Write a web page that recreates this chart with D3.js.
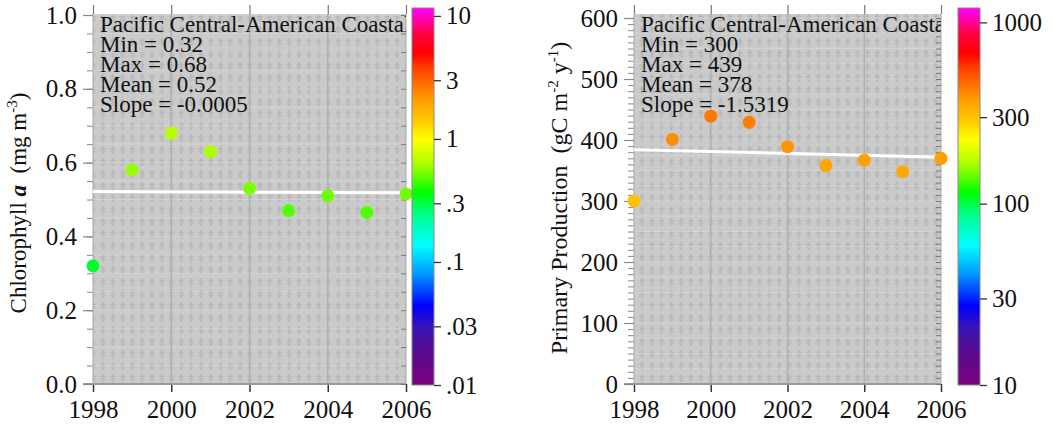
<!DOCTYPE html>
<html>
<head>
<meta charset="utf-8">
<script src="https://cdn.jsdelivr.net/npm/d3@7"></script>
<style>
body { margin: 0; background: #fff; }
svg { display: block; }
text { font-family: "Liberation Serif", "Times New Roman", Times, serif; fill: #111; }
</style>
</head>
<body>
<svg id="chart" width="1053" height="429"></svg>
<script>
const FONT = '"Liberation Serif", "Times New Roman", Times, serif';

// data
const years = [1998, 1999, 2000, 2001, 2002, 2003, 2004, 2005, 2006];
const chlValues = [0.32, 0.58, 0.68, 0.63, 0.53, 0.47, 0.51, 0.465, 0.515];
const ppValues = [300, 401, 439, 429, 389, 358, 367, 348, 370];
const regionName = 'Pacific Central-American Coastal';
const chlStats = { min: '0.32', max: '0.68', mean: 0.52, slope: -0.0005, slopeText: '-0.0005' };
const ppStats = { min: '300', max: '439', mean: 378, slope: -1.5319, slopeText: '-1.5319' };
const yearTicks = [1998, 2000, 2002, 2004, 2006];
const chlTicks = [0.0, 0.2, 0.4, 0.6, 0.8, 1.0];
const ppTicks = [0, 100, 200, 300, 400, 500, 600];
const chlBarTicks = [0.01, 0.03, 0.1, 0.3, 1, 3, 10];
const chlBarLabels = ['.01', '.03', '.1', '.3', '1', '3', '10'];
const ppBarTicks = [10, 30, 100, 300, 1000];
const ppBarLabels = ['10', '30', '100', '300', '1000'];

// rainbow colour map, bottom (0) to top (1)
const cmapPos = [0, 0.08, 0.15, 0.21, 0.29, 0.37, 0.45, 0.51, 0.58, 0.65, 0.70, 0.76, 0.84, 0.88, 0.93, 1];
const cmapCol = ['#7f007f', '#5a0a8c', '#3c14b4', '#0000ff', '#0090ff', '#00ffff', '#00ff90', '#00ff00',
	'#a0ff00', '#ffff00', '#ffcc00', '#ff9900', '#ff4000', '#ff0000', '#ff0040', '#ff00ff'];
const cmap = d3.scaleLinear().domain(cmapPos).range(cmapCol).interpolate(d3.interpolateRgb).clamp(true);

const svg = d3.select('#chart');
const defs = svg.append('defs');

// greyish texture for the plot background
let pat = defs.append('pattern').attr('id', 'tex').attr('patternUnits', 'userSpaceOnUse')
	.attr('width', 9.8).attr('height', 12);
pat.append('rect').attr('width', 9.8).attr('height', 12).attr('fill', '#cacaca');
pat.append('rect').attr('x', 4).attr('y', 2).attr('width', 2).attr('height', 8).attr('fill', '#b8b8b8');
pat.append('rect').attr('x', 2.5).attr('y', 4).attr('width', 5).attr('height', 1.5).attr('fill', '#b8b8b8');
pat.append('rect').attr('x', 2.5).attr('y', 7).attr('width', 5).attr('height', 1.5).attr('fill', '#bdbdbd');

let grad = defs.append('linearGradient').attr('id', 'rainbow')
	.attr('x1', 0).attr('y1', 1).attr('x2', 0).attr('y2', 0);
cmapPos.forEach((p, i) => grad.append('stop').attr('offset', p).attr('stop-color', cmapCol[i]));

function styleText(sel) {
	sel.attr('font-size', 25).attr('fill', '#111').style('font-family', FONT);
}

function drawPanel(o) {
	let g = svg.append('g');
	let x = d3.scaleLinear().domain([1998, 2006]).range([o.left, o.right]);
	let y = d3.scaleLinear().domain([0, o.yMax]).range([384, o.yTop]);
	let top = 14, bottom = 384;

	defs.append('clipPath').attr('id', o.id + '-clip')
		.append('rect').attr('x', o.left).attr('y', top).attr('width', o.right - o.left).attr('height', bottom - top);

	g.append('rect').attr('x', o.left).attr('y', top).attr('width', o.right - o.left)
		.attr('height', bottom - top).attr('fill', 'url(#tex)');

	// faint grid
	g.append('g').selectAll('line').data(d3.range(0, o.yMax + 1e-9, o.gridStep))
		.enter().append('line')
		.attr('x1', o.left).attr('x2', o.right)
		.attr('y1', d => y(d)).attr('y2', d => y(d))
		.attr('stroke', '#d6d6d6').attr('stroke-width', 0.8);
	g.append('g').selectAll('line').data(yearTicks.slice(1, -1))
		.enter().append('line')
		.attr('x1', d => x(d)).attr('x2', d => x(d))
		.attr('y1', top).attr('y2', bottom)
		.attr('stroke', '#b0b0b0').attr('stroke-width', 1.5);

	// bottom axis
	let xAxis = d3.axisBottom(x).tickValues(yearTicks).tickFormat(d3.format('d')).tickSize(8).tickPadding(8);
	let ax = g.append('g').attr('transform', `translate(0,${bottom})`).call(xAxis);
	ax.select('.domain').remove();
	ax.selectAll('line').attr('stroke', '#333').attr('stroke-width', 1.5);
	styleText(ax.selectAll('text'));
	g.append('line').attr('x1', o.left - 10).attr('x2', o.right).attr('y1', bottom).attr('y2', bottom)
		.attr('stroke', '#999').attr('stroke-width', 2);

	// top ticks
	let tAxis = d3.axisTop(x).tickValues(yearTicks).tickFormat('').tickSize(9);
	let at = g.append('g').attr('transform', `translate(0,${top})`).call(tAxis);
	at.select('.domain').remove();
	at.selectAll('line').attr('stroke', '#777').attr('stroke-width', 1.2);

	// left axis, major and minor
	let yMinor = d3.axisLeft(y).tickValues(d3.range(0, o.yMax + 1e-9, o.minorStep)).tickFormat('').tickSize(6);
	let am = g.append('g').attr('transform', `translate(${o.left},0)`).call(yMinor);
	am.select('.domain').remove();
	am.selectAll('line').attr('stroke', '#888').attr('stroke-width', 1);
	let yAxis = d3.axisLeft(y).tickValues(o.yTicks).tickFormat(o.yFormat).tickSize(10).tickPadding(6);
	let ay = g.append('g').attr('transform', `translate(${o.left},0)`).call(yAxis);
	ay.select('.domain').attr('stroke', '#aaa').attr('d', `M0,${top}V${bottom}`);
	ay.selectAll('line').attr('stroke', '#888').attr('stroke-width', 1.2);
	styleText(ay.selectAll('text'));

	// right edge inner ticks
	let yRight = d3.axisLeft(y).tickValues(d3.range(0, o.yMax + 1e-9, o.rightStep)).tickFormat('').tickSize(5);
	let ar = g.append('g').attr('transform', `translate(${o.right},0)`).call(yRight);
	ar.select('.domain').attr('stroke', '#aaa').attr('d', `M0,${top}V${bottom}`);
	ar.selectAll('line').attr('stroke', '#777');

	// y label
	let lab = g.append('text').attr('transform', `translate(${o.labelX},${o.labelY}) rotate(-90)`)
		.attr('text-anchor', 'middle').attr('font-size', o.labelSize);
	o.label(lab);

	// trend line from the stated mean and slope
	let mid = d3.mean(years);
	g.append('line')
		.attr('x1', x(1998)).attr('x2', x(2006))
		.attr('y1', y(o.stats.mean + o.stats.slope * (1998 - mid)))
		.attr('y2', y(o.stats.mean + o.stats.slope * (2006 - mid)))
		.attr('stroke', '#fff').attr('stroke-width', 3);

	// points, coloured through the colour bar scale
	let cb = d3.scaleLog().domain(o.barDomain).range([0, 1]);
	g.append('g').selectAll('circle').data(o.values)
		.enter().append('circle')
		.attr('cx', (d, i) => x(years[i]))
		.attr('cy', d => y(d))
		.attr('r', 6.5)
		.attr('fill', d => cmap(cb(d)));

	// stats text
	let tg = g.append('g').attr('clip-path', `url(#${o.id}-clip)`);
	let lines = [regionName, 'Min = ' + o.stats.min, 'Max = ' + o.stats.max,
		'Mean = ' + o.stats.mean, 'Slope = ' + o.stats.slopeText];
	tg.selectAll('text').data(lines).enter().append('text')
		.attr('x', o.left + 7).attr('y', (d, i) => 32 + i * 20)
		.attr('font-size', 23).text(d => d);

	// colour bar
	let bx = o.right + o.barGap;
	let by = d3.scaleLog().domain(o.barDomain).range([385, 8]);
	g.append('rect').attr('x', bx).attr('y', 8).attr('width', 22).attr('height', 377)
		.attr('fill', 'url(#rainbow)').attr('stroke', '#888').attr('stroke-width', 1);
	let bAxis = d3.axisRight(by).tickValues(o.barTicks)
		.tickFormat((d, i) => o.barLabels[i]).tickSize(7).tickPadding(5);
	let ab = g.append('g').attr('transform', `translate(${bx + 22},0)`).call(bAxis);
	ab.select('.domain').remove();
	ab.selectAll('line').attr('stroke', '#333').attr('stroke-width', 1.3);
	styleText(ab.selectAll('text'));
}

drawPanel({
	id: 'chl', left: 93, right: 406, yMax: 1.0, yTop: 15,
	yTicks: chlTicks, yFormat: d3.format('.1f'), minorStep: 0.05, rightStep: 0.05, gridStep: 0.05,
	values: chlValues, stats: chlStats,
	barDomain: [0.01, 11.6], barTicks: chlBarTicks, barLabels: chlBarLabels, barGap: 6,
	labelX: 26, labelY: 203, labelSize: 23,
	label: t => {
		t.append('tspan').text('Chlorophyll ');
		t.append('tspan').attr('font-weight', 'bold').attr('font-style', 'italic').text('a');
		t.append('tspan').text('\u00a0 (mg m');
		t.append('tspan').attr('font-size', 15).attr('dy', -9).text('-3');
		t.append('tspan').attr('dy', 9).text(')');
	}
});

drawPanel({
	id: 'pp', left: 634, right: 941, yMax: 600, yTop: 18,
	yTicks: ppTicks, yFormat: d3.format('d'), minorStep: 10, rightStep: 10, gridStep: 25,
	values: ppValues, stats: ppStats,
	barDomain: [10, 1200], barTicks: ppBarTicks, barLabels: ppBarLabels, barGap: 17,
	labelX: 567, labelY: 198, labelSize: 24,
	label: t => {
		t.append('tspan').text('Primary Production\u00a0 (gC m');
		t.append('tspan').attr('font-size', 15).attr('dy', -9).text('-2');
		t.append('tspan').attr('dy', 9).text(' y');
		t.append('tspan').attr('font-size', 15).attr('dy', -9).text('-1');
		t.append('tspan').attr('dy', 9).text(')');
	}
});
</script>
</body>
</html>
